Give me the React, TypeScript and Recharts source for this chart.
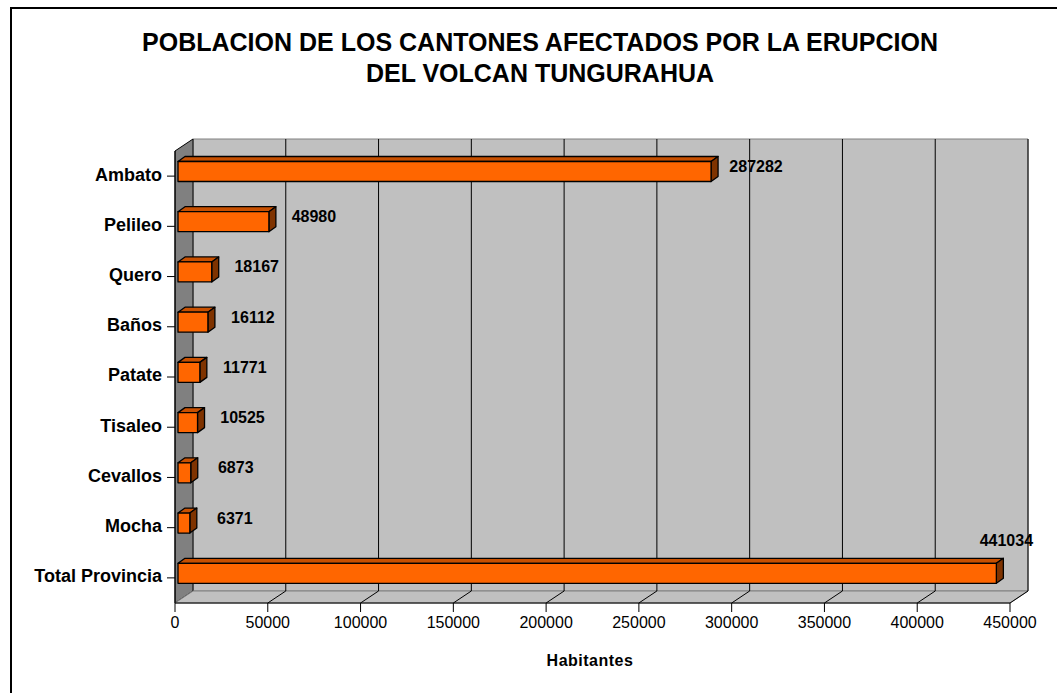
import React from 'react';
import { Bar, BarChart, CartesianGrid, XAxis, YAxis } from 'recharts';

const cantones = ['Ambato', 'Pelileo', 'Quero', 'Baños', 'Patate', 'Tisaleo', 'Cevallos', 'Mocha', 'Total Provincia'];
const habitantes = [287282, 48980, 18167, 16112, 11771, 10525, 6873, 6371, 441034];
const xTicks = [0, 50000, 100000, 150000, 200000, 250000, 300000, 350000, 400000, 450000];

const data = cantones.map((name, i) => ({ name, value: habitantes[i] }));

// plot area (front plane) and 3d depth
const W = 1057;
const H = 693;
const LEFT = 175;
const RIGHT = 1010;
const TOP = 151;
const BOTTOM = 603;
const DX = 18;
const DY = 12;

const FONT = '"Liberation Sans", Arial, sans-serif';

const Bar3D = (props: any) => {
  const { x, y, width, height } = props;
  const fx = x + 3;
  const fy = y - 4.5;
  const d = 7;
  const e = 5;
  return (
    <g stroke="#000" strokeWidth={1.3} strokeLinejoin="round">
      <polygon
        points={`${fx},${fy} ${fx + d},${fy - e} ${fx + width + d},${fy - e} ${fx + width},${fy}`}
        fill="#C85000"
      />
      <polygon
        points={`${fx + width},${fy} ${fx + width + d},${fy - e} ${fx + width + d},${fy + height - e} ${fx + width},${fy + height}`}
        fill="#7F3300"
      />
      <rect x={fx} y={fy} width={width} height={height} fill="#FF6600" />
    </g>
  );
};

const renderLabel = (props: any) => {
  const { x, y, width, height, value } = props;
  const end = x + 3 + width;
  const cy = y - 4.5 + height / 2;
  let lx = end + 45;
  let ly = cy - 5;
  if (lx + 30 > RIGHT) {
    lx = end + 10;
    ly = y - 4.5 - 23;
  }
  return (
    <text
      x={lx}
      y={ly}
      textAnchor="middle"
      dominantBaseline="central"
      fontFamily={FONT}
      fontWeight="bold"
      fontSize={16}
      fill="#000"
    >
      {value}
    </text>
  );
};

const gridLine = (props: any) => {
  const { x1, index } = props;
  if (index === 0 || x1 <= LEFT + 1) return <g key={`g${index}`} />;
  return (
    <g key={`g${index}`}>
      <line x1={x1 + DX} y1={TOP - DY} x2={x1 + DX} y2={BOTTOM - DY} stroke="#000" strokeWidth={1} />
      <line x1={x1} y1={BOTTOM} x2={x1 + DX} y2={BOTTOM - DY} stroke="#000" strokeWidth={1} />
    </g>
  );
};

export default function App() {
  return (
    <div style={{ position: 'absolute', left: 0, top: 0, width: W, height: H, background: '#fff', overflow: 'hidden', fontFamily: FONT }}>
      <div style={{ position: 'absolute', left: 10, top: 7, width: 1100, height: 800, border: '2px solid #000' }} />
      <svg width={W} height={H} style={{ position: 'absolute', left: 0, top: 0 }}>
        {/* back wall */}
        <polygon
          points={`${LEFT + DX},${TOP - DY} ${RIGHT + DX},${TOP - DY} ${RIGHT + DX},${BOTTOM - DY} ${LEFT + DX},${BOTTOM - DY}`}
          fill="#C0C0C0"
          stroke="#808080"
        />
        {/* side wall */}
        <polygon
          points={`${LEFT},${TOP} ${LEFT + DX},${TOP - DY} ${LEFT + DX},${BOTTOM - DY} ${LEFT},${BOTTOM}`}
          fill="#808080"
          stroke="#000"
        />
        {/* floor */}
        <polygon
          points={`${LEFT},${BOTTOM} ${LEFT + DX},${BOTTOM - DY} ${RIGHT + DX},${BOTTOM - DY} ${RIGHT},${BOTTOM}`}
          fill="#C0C0C0"
          stroke="#808080"
        />
      </svg>
      <div style={{ position: 'absolute', left: 0, top: 0 }}>
        <BarChart
          width={W}
          height={H}
          data={data}
          layout="vertical"
          margin={{ top: TOP, right: W - RIGHT, bottom: H - BOTTOM - 30, left: LEFT - 165 }}
        >
          <CartesianGrid horizontal={false} vertical={gridLine} stroke="#000" />
          <XAxis
            type="number"
            domain={[0, 450000]}
            ticks={xTicks}
            height={30}
            interval={0}
            tickSize={9}
            tickMargin={5}
            axisLine={{ stroke: '#000' }}
            tickLine={{ stroke: '#000' }}
            tick={{ fill: '#000', fontSize: 16, fontFamily: FONT }}
          />
          <YAxis
            type="category"
            dataKey="name"
            width={165}
            interval={0}
            tickSize={8}
            tickMargin={5}
            axisLine={{ stroke: '#000' }}
            tickLine={{ stroke: '#000' }}
            tick={{ fill: '#000', fontSize: 18, fontWeight: 'bold', fontFamily: FONT, dy: -2 }}
          />
          <Bar dataKey="value" barSize={20} shape={Bar3D} label={renderLabel} isAnimationActive={false} />
        </BarChart>
      </div>
      <div style={{ position: 'absolute', left: 0, width: 1080, top: 27, textAlign: 'center', fontWeight: 'bold', fontSize: 25, lineHeight: '31px' }}>
        POBLACION DE LOS CANTONES AFECTADOS POR LA ERUPCION
        <br />
        DEL VOLCAN TUNGURAHUA
      </div>
      <div style={{ position: 'absolute', left: 590 - 100, width: 200, top: 652, textAlign: 'center', fontWeight: 'bold', fontSize: 16, letterSpacing: 0.5 }}>
        Habitantes
      </div>
    </div>
  );
}
